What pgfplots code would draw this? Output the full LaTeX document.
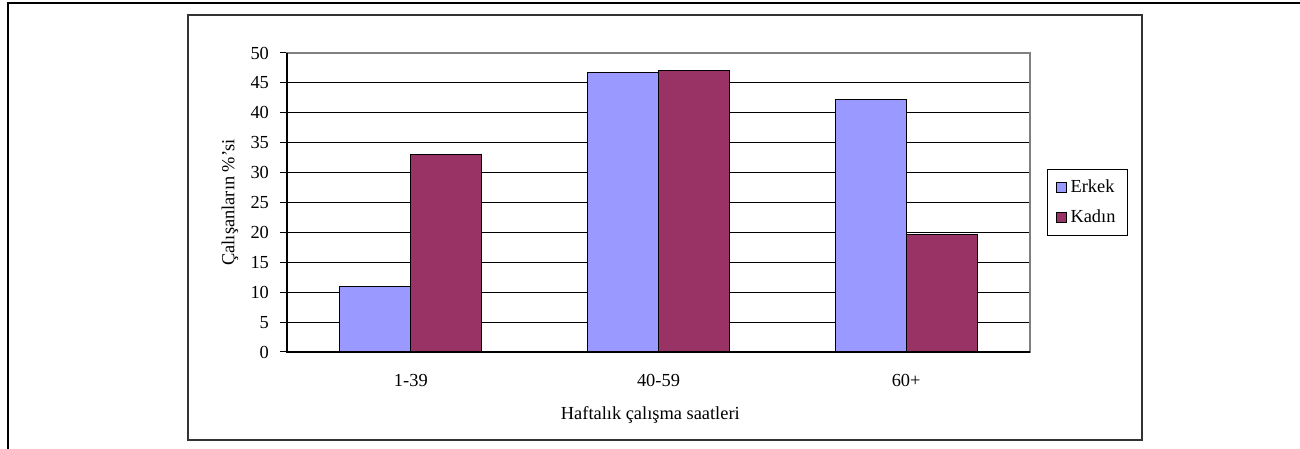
\documentclass[border=0pt]{standalone}
\usepackage{fontspec}
\setmainfont{Liberation Serif}
\usepackage{pgfplots}
\pgfplotsset{compat=1.18}
\definecolor{erkek}{HTML}{9999FF}
\definecolor{kadin}{HTML}{993366}
\begin{document}
\begin{tikzpicture}[font=\fontsize{9.2}{11}\selectfont]
  \useasboundingbox (0,0) rectangle (650pt,224.5pt);
  % outer page frame
  \draw[line width=0.6pt] (4pt,0) -- (4pt,223pt) -- (650pt,223pt);
  % chart area
  \draw[line width=0.8pt, draw=black!80] (94pt,4.5pt) rectangle (571pt,217pt);
\begin{axis}[
  at={(143.5pt,48.5pt)}, anchor=south west,
  scale only axis, width=371.5pt, height=149.5pt,
  ybar=0pt, bar width=35.5pt,
  xmin=-0.5, xmax=2.5,
  ymin=0, ymax=50,
  xtick={0,1,2},
  xticklabels={1-39,40-59,60+},
  minor xtick={-0.5,0.5,1.5,2.5},
  ytick={0,5,...,50},
  xtick pos=bottom, ytick pos=left,
  tick align=outside,
  major tick length=3.5pt,
  minor tick length=2.5pt,
  xtick style={draw=none},
  minor tick style={black, line width=0.5pt},
  ytick style={black, line width=0.5pt},
  xticklabel shift=4pt,
  yticklabel shift=2pt,
  ymajorgrids,
  major grid style={black, line width=0.5pt},
  axis line style={draw=black!50, line width=0.6pt},
  /pgf/number format/assume math mode=true,
  xlabel={Haftalık çalışma saatleri},
  xlabel style={at={(axis description cs:0.489,0)}, anchor=center, yshift=-31.5pt},
  ylabel={Çalışanların \%'si},
  ylabel style={at={(axis description cs:-0.0767,0.5)}, anchor=center},
  legend style={at={(1,0.5)}, anchor=west, xshift=8.5pt, draw=black,
    line width=0.5pt, inner xsep=4pt, inner ysep=3pt, row sep=3pt,
    cells={anchor=west}},
  legend image code/.code={\draw[#1, line width=0.5pt] (0pt,-2.5pt) rectangle (5pt,2.5pt);},
  after end axis/.code={\draw[black, line width=0.6pt] (rel axis cs:0,1) -- (rel axis cs:0,0) -- (rel axis cs:1,0);},
]
\addplot[fill=erkek, draw=black, line width=0.5pt] coordinates {(0,11.0) (1,46.7) (2,42.2)};
\addplot[fill=kadin, draw=black, line width=0.5pt] coordinates {(0,33.0) (1,47.0) (2,19.7)};
\legend{Erkek, Kadın}
\end{axis}
\end{tikzpicture}
\end{document}
